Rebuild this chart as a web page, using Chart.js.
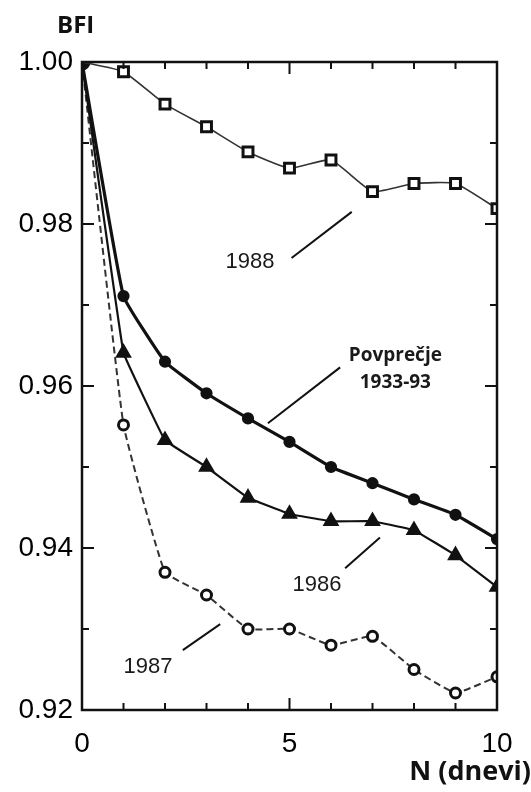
<!DOCTYPE html>
<html>
<head>
<meta charset="utf-8">
<script src="https://cdn.jsdelivr.net/npm/chart.js@4"></script>
<style>
  html, body { margin: 0; padding: 0; background: #fff; }
  #wrap { width: 531px; height: 792px; }
</style>
</head>
<body>
<div id="wrap"><canvas id="myChart" width="531" height="792"></canvas></div>
<script>
// N (dnevi)
const days = [0, 1, 2, 3, 4, 5, 6, 7, 8, 9, 10];
// BFI series
const bfi1988 = [1.000, 0.9988, 0.9948, 0.9920, 0.9889, 0.9869, 0.9879, 0.9840, 0.9850, 0.9850, 0.9819];
const bfiAvg  = [1.000, 0.9711, 0.9630, 0.9591, 0.9560, 0.9531, 0.9500, 0.9480, 0.9460, 0.9441, 0.9411];
const bfi1986 = [1.000, 0.9641, 0.9533, 0.9500, 0.9462, 0.9442, 0.9433, 0.9433, 0.9422, 0.9391, 0.9352];
const bfi1987 = [1.000, 0.9552, 0.9370, 0.9342, 0.9300, 0.9300, 0.9280, 0.9291, 0.9250, 0.9221, 0.9241];
const yTicks = [0.92, 0.94, 0.96, 0.98, 1.00];
const xTicks = [0, 5, 10];

// labels inside the plot, with their leader lines (data coordinates)
const notes = [
  { text: ['1988'], at: [4.05, 0.9753], line: [[5.05, 0.9758], [6.5, 0.9815]], bold: false },
  { text: ['Povprečje', '1933-93'], at: [7.55, 0.9621], line: [[4.48, 0.9554], [6.22, 0.9623]], bold: true },
  { text: ['1986'], at: [5.66, 0.9354], line: [[6.34, 0.9375], [7.18, 0.9413]], bold: false },
  { text: ['1987'], at: [1.59, 0.9253], line: [[2.43, 0.9274], [3.33, 0.9306]], bold: false }
];

function pts(ys) {
  return days.map((d, i) => ({ x: d, y: ys[i] }));
}
function firstHidden(r) {
  return days.map((d, i) => i === 0 ? 0 : r);
}

const framePlugin = {
  id: 'frame',
  afterDraw(chart) {
    const ctx = chart.ctx;
    const a = chart.chartArea;
    const xs = chart.scales.x, ys = chart.scales.y;
    ctx.save();
    ctx.strokeStyle = '#111';
    ctx.lineWidth = 2.5;
    ctx.strokeRect(a.left, a.top, a.right - a.left, a.bottom - a.top);
    ctx.lineWidth = 2;
    ctx.beginPath();
    for (let n = 1; n < 10; n++) {
      const px = xs.getPixelForValue(n);
      const len = n === 5 ? 12 : 7;
      ctx.moveTo(px, a.bottom); ctx.lineTo(px, a.bottom - len);
      ctx.moveTo(px, a.top); ctx.lineTo(px, a.top + len);
    }
    for (let k = 1; k < 8; k++) {
      const v = 0.92 + k * 0.01;
      const py = ys.getPixelForValue(v);
      const len = k % 2 === 0 ? 12 : 7;
      ctx.moveTo(a.left, py); ctx.lineTo(a.left + len, py);
      ctx.moveTo(a.right, py); ctx.lineTo(a.right - len, py);
    }
    ctx.stroke();

    // notes
    ctx.fillStyle = '#1a1a1a';
    ctx.textAlign = 'center';
    ctx.textBaseline = 'middle';
    ctx.lineWidth = 2;
    notes.forEach(nt => {
      ctx.beginPath();
      ctx.moveTo(xs.getPixelForValue(nt.line[0][0]), ys.getPixelForValue(nt.line[0][1]));
      ctx.lineTo(xs.getPixelForValue(nt.line[1][0]), ys.getPixelForValue(nt.line[1][1]));
      ctx.stroke();
      const cx = xs.getPixelForValue(nt.at[0]);
      const cy = ys.getPixelForValue(nt.at[1]);
      ctx.font = nt.bold ? 'bold 19px "Open Sans"' : '22px "Liberation Sans"';
      const lh = 27;
      nt.text.forEach((t, i) => {
        ctx.fillText(t, cx, cy + (i - (nt.text.length - 1) / 2) * lh);
      });
    });

    // axis titles
    ctx.fillStyle = '#111';
    ctx.font = 'bold 24px "Open Sans"';
    ctx.textAlign = 'left';
    ctx.fillText('BFI', 57, 26);
    ctx.font = 'bold 27px "Open Sans"';
    ctx.textAlign = 'right';
    ctx.fillText('N (dnevi)', 531, 772);
    ctx.restore();
  }
};

const ctx = document.getElementById('myChart').getContext('2d');
new Chart(ctx, {
  type: 'line',
  data: {
    datasets: [
      {
        label: '1988',
        data: pts(bfi1988),
        borderColor: '#333',
        borderWidth: 1.6,
        pointStyle: 'rect',
        pointRadius: firstHidden(7),
        pointBorderWidth: 3,
        pointBackgroundColor: '#fff',
        pointBorderColor: '#111',
        tension: 0.15
      },
      {
        label: 'Povprečje 1933-93',
        data: pts(bfiAvg),
        borderColor: '#111',
        borderWidth: 3.2,
        pointStyle: 'circle',
        pointRadius: days.map((d, i) => i === 0 ? 7 : 4.5),
        pointBackgroundColor: '#111',
        pointBorderColor: '#111',
        tension: 0.1
      },
      {
        label: '1986',
        data: pts(bfi1986),
        borderColor: '#111',
        borderWidth: 2.2,
        pointStyle: 'triangle',
        pointRadius: firstHidden(7.5),
        pointBackgroundColor: '#111',
        pointBorderColor: '#111',
        tension: 0.05
      },
      {
        label: '1987',
        data: pts(bfi1987),
        borderColor: '#333',
        borderWidth: 2,
        borderDash: [7, 4],
        pointStyle: 'circle',
        pointRadius: firstHidden(5),
        pointBorderWidth: 3,
        pointBackgroundColor: '#fff',
        pointBorderColor: '#111',
        tension: 0.1
      }
    ]
  },
  options: {
    responsive: false,
    animation: false,
    layout: { padding: { top: 62, right: 34, left: 0, bottom: 0 } },
    plugins: { legend: { display: false }, tooltip: { enabled: false } },
    scales: {
      x: {
        type: 'linear',
        min: 0, max: 10,
        afterFit: s => { s.height = 82; },
        afterBuildTicks: s => { s.ticks = xTicks.map(v => ({ value: v })); },
        grid: { display: false, drawTicks: false },
        border: { display: false },
        ticks: {
          color: '#000',
          padding: 17,
          font: { family: 'Liberation Sans', size: 28 },
          maxRotation: 0
        }
      },
      y: {
        min: 0.92, max: 1.00,
        afterFit: s => { s.width = 82; },
        afterBuildTicks: s => { s.ticks = yTicks.map(v => ({ value: v })); },
        grid: { display: false, drawTicks: false },
        border: { display: false },
        ticks: {
          color: '#000',
          padding: 9,
          font: { family: 'Liberation Sans', size: 28 },
          callback: v => v.toFixed(2)
        }
      }
    }
  },
  plugins: [framePlugin]
});
</script>
</body>
</html>
